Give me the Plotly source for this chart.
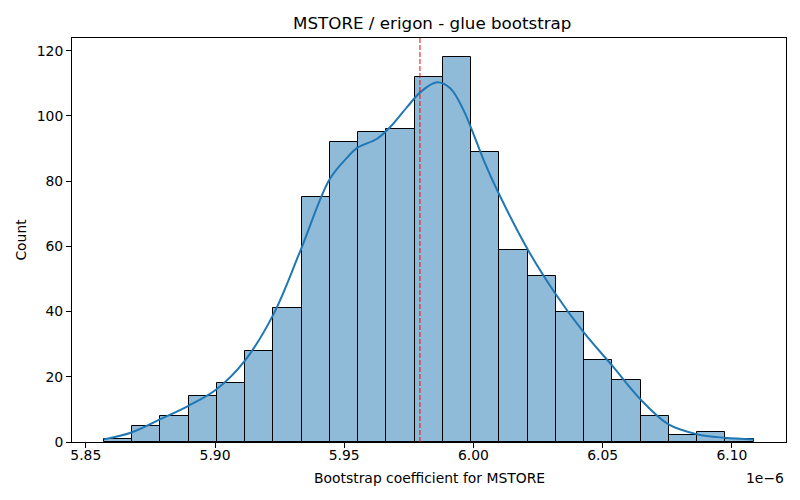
import numpy as np
import plotly.graph_objects as go

# histogram of bootstrap coefficients (x in units of 1e-6)
bin_start = 5.85696
bin_end = 6.10842
counts = [1, 5, 8, 14, 18, 28, 41, 75, 92, 95, 96, 112, 118,
          89, 59, 51, 40, 25, 19, 8, 2, 3, 1]

# kde curve (scaled to counts)
kde_x = [5.8570, 5.8677, 5.8789, 5.8897, 5.9006, 5.9115, 5.9227, 5.9331,
         5.9443, 5.9511, 5.9550, 5.9627, 5.9678, 5.9743, 5.9795, 5.9859,
         5.9911, 5.9962, 5.9995, 6.0040, 6.0098, 6.0214, 6.0318, 6.0427,
         6.0537, 6.0646, 6.0755, 6.0865, 6.0972, 6.1084]
kde_y = [0.8, 2.9, 7.0, 11.1, 16.2, 24.9, 39.3, 58.8,
         80.5, 87.2, 90.2, 93.0, 96.6, 102.7, 107.3, 110.3,
         108.4, 101.7, 95.5, 86.4, 76.2, 58.5, 45.4, 33.6,
         23.4, 13.1, 5.4, 2.4, 1.3, 0.8]

mean_coef = 5.9793
x_ticks = [5.85, 5.90, 5.95, 6.00, 6.05, 6.10]
y_ticks = [0, 20, 40, 60, 80, 100, 120]

edges = np.linspace(bin_start, bin_end, len(counts) + 1)
centers = (edges[:-1] + edges[1:]) / 2
width = edges[1] - edges[0]

font = dict(family="DejaVu Sans", size=13.9, color="black")

fig = go.Figure()
fig.add_trace(go.Bar(x=centers, y=counts, width=width,
                     marker=dict(color="rgba(31,119,180,0.5)",
                                 line=dict(color="black", width=1)),
                     showlegend=False, hoverinfo="x+y"))
fig.add_trace(go.Scatter(x=kde_x, y=kde_y, mode="lines",
                         line=dict(color="#1f77b4", width=2, shape="spline"),
                         showlegend=False))
fig.add_shape(type="line", x0=mean_coef, x1=mean_coef, y0=0, y1=1,
              xref="x", yref="paper",
              line=dict(color="red", width=1, dash="5px,2px"))

axis = dict(showline=True, linecolor="black", linewidth=1, mirror=True,
            ticks="outside", ticklen=5, tickcolor="black", tickwidth=1,
            showgrid=False, zeroline=False, tickfont=font)
fig.update_xaxes(range=[5.84466, 6.12095], tickvals=x_ticks,
                 ticktext=[f"{t:.2f}" for t in x_ticks],
                 ticklabelstandoff=-5, **axis)
fig.update_yaxes(range=[0, 123.9], tickvals=y_ticks, **axis)

# page body adds an 8px offset, so the figure is 792x492
fig.update_layout(
    width=792, height=492,
    margin=dict(l=64, r=14, t=30, b=58),
    plot_bgcolor="white", paper_bgcolor="white",
    bargap=0, font=font,
    title=dict(text="MSTORE / erigon - glue bootstrap", x=0.5357, xanchor="center",
               y=1 - 15 / 492, yanchor="middle", yref="container",
               font=dict(family="DejaVu Sans", size=16.7, color="black")),
    annotations=[
        dict(text="Bootstrap coefficient for MSTORE", xref="paper", yref="paper",
             x=0.5, y=-0.09, xanchor="center", yanchor="middle",
             showarrow=False, font=font),
        dict(text="Count", xref="paper", yref="paper", x=-0.072, y=0.5,
             textangle=-90, xanchor="center", yanchor="middle",
             showarrow=False, font=font),
        dict(text="1e\u22126", xref="paper", yref="paper", x=1.0, y=-0.09,
             xanchor="right", yanchor="middle", showarrow=False, font=font),
    ],
)

fig.write_html("out.html")
